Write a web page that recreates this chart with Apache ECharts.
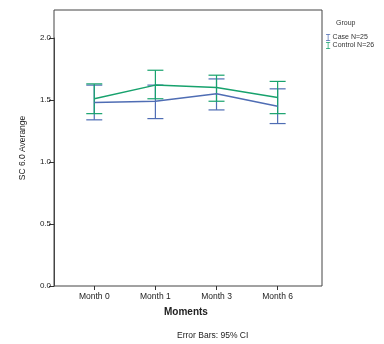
<!DOCTYPE html>
<html><head><meta charset="utf-8">
<script src="https://cdn.jsdelivr.net/npm/echarts@6/dist/echarts.min.js"></script>
<style>html,body{margin:0;padding:0;background:#fff}#c{width:384px;height:344px}</style>
</head><body><div id="c"></div>
<script>
const categories = ['Month 0', 'Month 1', 'Month 3', 'Month 6'];
const yTicks = [0, 0.5, 1.0, 1.5, 2.0];
const caseName = 'Case N=25';
const caseMean = [1.48, 1.49, 1.55, 1.45];
const caseLow = [1.34, 1.35, 1.42, 1.31];
const caseHigh = [1.62, 1.62, 1.67, 1.59];
const ctrlName = 'Control N=26';
const ctrlMean = [1.51, 1.62, 1.60, 1.52];
const ctrlLow = [1.39, 1.51, 1.49, 1.39];
const ctrlHigh = [1.63, 1.74, 1.70, 1.65];

const BLUE = '#4f6db4';
const GREEN = '#17a26d';
const FONT = 'Liberation Sans';

function errData(low, high) { return low.map((l, i) => [i, l, high[i]]); }
function errRender(color) {
  return function (params, api) {
    const x = api.value(0);
    const lo = api.coord([x, api.value(1)]);
    const hi = api.coord([x, api.value(2)]);
    const w = 8;
    const style = { stroke: color, lineWidth: 1.2, fill: null };
    return { type: 'group', children: [
      { type: 'line', shape: { x1: lo[0], y1: lo[1], x2: hi[0], y2: hi[1] }, style },
      { type: 'line', shape: { x1: lo[0] - w, y1: lo[1], x2: lo[0] + w, y2: lo[1] }, style },
      { type: 'line', shape: { x1: hi[0] - w, y1: hi[1], x2: hi[0] + w, y2: hi[1] }, style }
    ]};
  };
}
const icon = 'path://M0,0h6v1h-2.5v8h2.5v1h-6v-1h2.5v-8h-2.5z';

const chart = echarts.init(document.getElementById('c'), null, { renderer: 'canvas' });
chart.setOption({
  animation: false,
  textStyle: { fontFamily: FONT },
  title: [
    { text: 'Group', left: 331, top: 15, textStyle: { fontSize: 7, fontWeight: 'normal', color: '#333', fontFamily: FONT } },
    { text: 'Error Bars: 95% CI', left: 172, top: 326, textStyle: { fontSize: 8.5, fontWeight: 'normal', color: '#222', fontFamily: FONT } }
  ],
  legend: {
    orient: 'vertical', left: 321, top: 29, itemWidth: 5, itemHeight: 7, itemGap: 1,
    textStyle: { fontSize: 7, color: '#333', fontFamily: FONT, padding: [0, 0, 0, -3] },
    data: [
      { name: caseName, icon: icon, itemStyle: { color: BLUE } },
      { name: ctrlName, icon: icon, itemStyle: { color: GREEN } }
    ]
  },
  grid: [
    { left: 54, top: 10, width: 268, height: 276, show: true, borderColor: '#444', borderWidth: 1, backgroundColor: 'transparent' },
    { left: 63.7, top: 38, width: 244.5, height: 248 }
  ],
  xAxis: [
    { gridIndex: 0, type: 'value', min: 0, max: 1, show: false },
    { gridIndex: 1, type: 'category', data: categories, boundaryGap: true,
      axisLine: { show: false },
      axisTick: { show: true, alignWithLabel: true, length: 4, lineStyle: { color: '#333' } },
      axisLabel: { fontSize: 8.5, color: '#222', margin: 6, fontFamily: FONT },
      name: 'Moments', nameLocation: 'middle', nameGap: 21,
      nameTextStyle: { fontSize: 10, fontWeight: 'bold', color: '#222', fontFamily: FONT } }
  ],
  yAxis: [
    { gridIndex: 0, type: 'value', min: 0, max: 1,
      axisLine: { show: false }, axisTick: { show: false }, axisLabel: { show: false }, splitLine: { show: false },
      name: 'SC 6.0 Averange', nameLocation: 'middle', nameRotate: 90, nameGap: 27,
      nameTextStyle: { fontSize: 8.5, color: '#222', fontFamily: FONT } },
    { gridIndex: 1, type: 'value', min: yTicks[0], max: yTicks[yTicks.length - 1], interval: 0.5, offset: 9.7,
      axisLine: { show: true, lineStyle: { color: '#444' } },
      axisTick: { show: true, length: 5, lineStyle: { color: '#333' } },
      axisLabel: { fontSize: 8, color: '#222', margin: 3, fontFamily: FONT, formatter: v => v.toFixed(1) },
      splitLine: { show: false } }
  ],
  series: [
    { name: caseName, type: 'line', xAxisIndex: 1, yAxisIndex: 1, data: caseMean, symbol: 'none',
      lineStyle: { color: BLUE, width: 1.5 }, itemStyle: { color: BLUE } },
    { name: caseName, type: 'custom', xAxisIndex: 1, yAxisIndex: 1, data: errData(caseLow, caseHigh),
      renderItem: errRender(BLUE), encode: { x: 0, y: [1, 2] } },
    { name: ctrlName, type: 'line', xAxisIndex: 1, yAxisIndex: 1, data: ctrlMean, symbol: 'none',
      lineStyle: { color: GREEN, width: 1.5 }, itemStyle: { color: GREEN } },
    { name: ctrlName, type: 'custom', xAxisIndex: 1, yAxisIndex: 1, data: errData(ctrlLow, ctrlHigh),
      renderItem: errRender(GREEN), encode: { x: 0, y: [1, 2] } }
  ]
});
</script></body></html>
